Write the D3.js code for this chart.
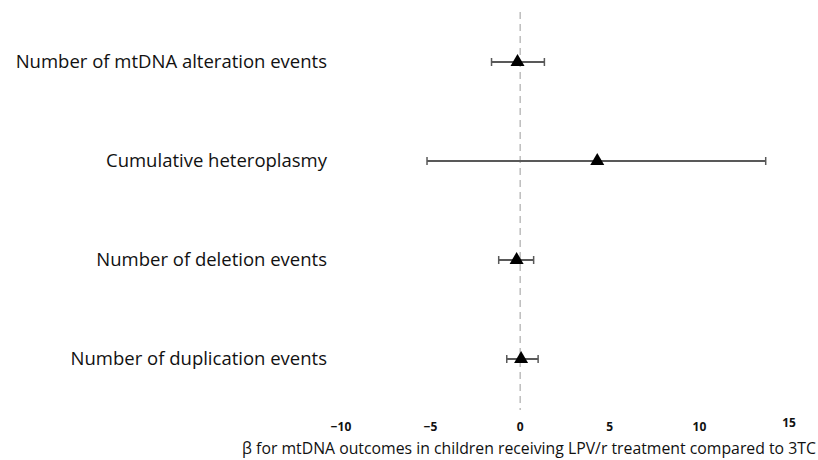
<!DOCTYPE html>
<html><head><meta charset="utf-8">
<script src="https://cdn.jsdelivr.net/npm/d3@7"></script>
<style>body{margin:0;background:#fff}svg{display:block}</style>
</head><body>
<script>
const categories = ["Number of mtDNA alteration events","Cumulative heteroplasmy","Number of deletion events","Number of duplication events"];
const estimates = [-0.15, 4.3, -0.2, 0.05];
const lower = [-1.6, -5.2, -1.2, -0.75];
const upper = [1.35, 13.7, 0.75, 1.0];
const tickValues = [-10, -5, 0, 5, 10, 15];
const xTitle = "β for mtDNA outcomes in children receiving LPV/r treatment compared to 3TC";

const W = 818, H = 460;
const svg = d3.select("body").append("svg").attr("width", W).attr("height", H);
const x = d3.scaleLinear().domain([-10, 15]).range([341, 789]);
const y = d3.scalePoint().domain(categories).range([62, 359]);

// reference line
svg.append("line").attr("x1", x(0)).attr("x2", x(0)).attr("y1", 12).attr("y2", 410)
  .attr("stroke", "#bdbdbd").attr("stroke-width", 1.5).attr("stroke-dasharray", "7,5");

// category labels
svg.selectAll("text.cat").data(categories).join("text").attr("class","cat")
  .attr("x", 327).attr("y", d => y(d)).attr("dy", "0.35em").attr("text-anchor","end")
  .attr("font-family", "'Open Sans', sans-serif").attr("font-size", 18.5).attr("fill", "#111").text(d => d);

const rows = categories.map((c,i)=>({c, est: estimates[i], lo: lower[i], hi: upper[i]}));
const g = svg.append("g");
g.selectAll("line.err").data(rows).join("line").attr("class","err")
  .attr("x1", d=>x(d.lo)).attr("x2", d=>x(d.hi)).attr("y1", d=>y(d.c)).attr("y2", d=>y(d.c))
  .attr("stroke", "#595959").attr("stroke-width", 2);
["lo","hi"].forEach(k=>{
  g.selectAll("line.cap"+k).data(rows).join("line").attr("class","cap"+k)
    .attr("x1", d=>x(d[k])).attr("x2", d=>x(d[k])).attr("y1", d=>y(d.c)-4).attr("y2", d=>y(d.c)+4)
    .attr("stroke", "#595959").attr("stroke-width", 1.5);
});
g.selectAll("path.pt").data(rows).join("path").attr("class","pt")
  .attr("transform", d=>`translate(${x(d.est)},${y(d.c)})`)
  .attr("d", d3.symbol().type(d3.symbolTriangle).size(85)).attr("fill", "#000");

// x tick labels
svg.selectAll("text.tick").data(tickValues).join("text").attr("class","tick")
  .attr("x", d=>x(d)).attr("y", d=> d===15 ? 427 : 431).attr("text-anchor","middle")
  .attr("font-family", "'Open Sans', sans-serif").attr("font-size", 12).attr("font-weight","bold").attr("fill","#111")
  .text(d => d3.format("")(d).replace("-", "\u2212"));

svg.append("text").attr("x", 529).attr("y", 454).attr("text-anchor","middle")
  .attr("font-family", "'Open Sans', sans-serif").attr("font-size", 15.8).attr("fill","#111").text(xTitle);
</script>
</body></html>
